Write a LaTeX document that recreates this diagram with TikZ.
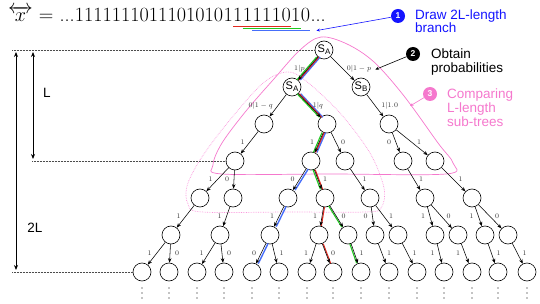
\RequirePackage{fix-cm}
\documentclass[tikz,border=0pt]{standalone}
\usepackage{amsmath}
\usepackage{fontspec}
\setsansfont{Liberation Sans}
\usetikzlibrary{arrows.meta,calc}

\definecolor{pinkc}{RGB}{245,120,205}
\definecolor{pinkl}{RGB}{250,150,220}
\definecolor{annblue}{RGB}{20,20,255}
\definecolor{pgreen}{RGB}{30,200,30}
\definecolor{pred}{RGB}{225,40,30}
\definecolor{pblue}{RGB}{70,110,250}

\newcommand\stlab[1]{{\sffamily\fontsize{11}{11}\selectfont S\raisebox{-0.3ex}{\fontsize{8}{8}\selectfont #1}}}
\newcommand\edL[3]{\draw[edge] (#1) -- (#2) node[lbl,midway,xshift=-7pt] (l#1#2) {$#3$};}
\newcommand\edR[3]{\draw[edge] (#1) -- (#2) node[lbl,midway,xshift=7pt] (l#1#2) {$#3$};}

\begin{document}
\begin{tikzpicture}[x=1pt,y=-1pt,
  st/.style={circle,draw,line width=0.6pt,minimum size=18pt,inner sep=0pt},
  edge/.style={line width=0.55pt,-{Stealth[length=4.5pt,width=3.5pt]}},
  lbl/.style={font=\fontsize{7}{7}\selectfont,text=black!80,inner sep=0pt},
  big/.style={anchor=base west,inner sep=0pt,font=\fontsize{20.2}{22}\selectfont},
  uline/.style={line width=1.3pt},
  gr/.style={pgreen,line width=1.1pt,transform canvas={xshift=-1.3pt}},
  rd/.style={pred,line width=1.1pt,transform canvas={xshift=0.9pt}},
  bl/.style={pblue,line width=1.4pt,transform canvas={xshift=2.2pt}},
  hdot/.style={densely dotted,line width=0.5pt,black!70},
  varr/.style={line width=0.9pt,{Stealth[length=5pt,width=4pt]}-{Stealth[length=5pt,width=4pt]}},
  ann/.style={circle,inner sep=0pt,minimum size=14pt,text=white,font=\sffamily\bfseries\fontsize{8.5}{8.5}\selectfont},
  annt/.style={inner sep=0pt,font=\sffamily\fontsize{13.5}{15}\selectfont},
  annarr/.style={line width=0.6pt,-{Stealth[length=3.5pt,width=3pt]}}
]
\useasboundingbox (0,0) rectangle (540,304);

% pink sub-tree outlines
\draw[pinkc,line width=0.7pt] plot[smooth cycle,tension=0.55] coordinates {
  (321,37) (347,44) (374,62) (404,96) (438,143) (453,163) (446,174) (330,174)
  (222,174) (213,165) (222,143) (246,111) (273,80) (300,50)};
\draw[pinkl,line width=0.7pt,densely dotted] plot[smooth cycle,tension=0.55] coordinates {
  (287,72) (306,81) (340,113) (370,153) (384,188) (381,208) (365,212) (290,212)
  (202,212) (188,204) (187,186) (200,160) (225,126) (262,84)};

% top sequence
\node[big] (pre) at (8,22) {$\overleftrightarrow{x}$ = ...1111111011101010};
\node[big] (s1) at (pre.base east) {1};
\node[big] (s2) at (s1.base east) {1};
\node[big] (s3) at (s2.base east) {1};
\node[big] (s4) at (s3.base east) {1};
\node[big] (s5) at (s4.base east) {1};
\node[big] (s6) at (s5.base east) {1};
\node[big] (s7) at (s6.base east) {0};
\node[big] (s8) at (s7.base east) {1};
\node[big] (s9) at (s8.base east) {0};
\node[big] (post) at (s9.base east) {...};
\draw[pred,uline] ($(s2.base west)+(0,4.5)$) -- ($(s7.base east)+(0,4.5)$);
\draw[pgreen,uline] ($(s3.base west)+(0,6.3)$) -- ($(s8.base east)+(0,6.3)$);
\draw[pblue,uline] ($(s4.base west)+(0,8.6)$) -- ($(s9.base east)+(0,8.6)$);

% tree nodes
\node[st] (r) at (324,50) {\stlab{A}};
\node[st] (a) at (292,87) {\stlab{A}};
\node[st] (b) at (361,87) {\stlab{B}};
\foreach \n/\x in {c1/264,c2/327,c3/389} \node[st] (\n) at (\x,124) {};
\foreach \n/\x in {d1/235,d2/311,d3/345,d4/403,d5/435} \node[st] (\n) at (\x,161) {};
\foreach \n/\x in {e1/200,e2/233,e3/288,e4/325,e5/370,e6/425,e7/472} \node[st] (\n) at (\x,198) {};
\foreach \n/\x in {f1/171,f2/220,f3/270,f4/319,f5/348,f6/375,f7/398,f8/435,f9/458,f10/485,f11/508} \node[st] (\n) at (\x,235) {};
\foreach \x [count=\i] in {142,169,197,224,252,279,307,333,361,389,417,444,472,498,527} {
  \node[st] (g\i) at (\x,272) {};
  \foreach \yy in {288,293,298} \fill (\x,\yy) circle (0.6pt);
}

% highlighted branches
\foreach \p/\q in {r/a,a/c2,c2/d2,d2/e3,e3/f3,f3/g5} \draw[bl] (\p) -- (\q);
\foreach \p/\q in {r/a,a/c2,c2/d2,d2/e4,e4/f4,f4/g8} \draw[rd] (\p) -- (\q);
\foreach \p/\q in {r/a,a/c2,c2/d2,d2/e4,e4/f5,f5/g9} \draw[gr] (\p) -- (\q);

% edges
\draw[edge] (r) -- (a) node[lbl,midway,anchor=east,xshift=-3pt] (lra) {$1|p$};
\draw[edge] (r) -- (b) node[lbl,midway,anchor=west,xshift=4pt] (lrb) {$0|1-p$};
\draw[edge] (a) -- (c1) node[lbl,midway,anchor=east,xshift=-5pt] (lac1) {$0|1-q$};
\draw[edge] (a) -- (c2) node[lbl,midway,anchor=west,xshift=3pt] (lac2) {$1|q$};
\draw[edge] (b) -- (c3) node[lbl,midway,anchor=west,xshift=6pt] (lbc3) {$1|1.0$};
\edL{c1}{d1}{1}
\edL{c2}{d2}{1} \edR{c2}{d3}{0}
\edL{c3}{d4}{0} \edR{c3}{d5}{1}
\edL{d1}{e1}{1} \edL{d1}{e2}{0}
\edL{d2}{e3}{0} \edR{d2}{e4}{1}
\edR{d3}{e5}{1}
\edR{d4}{e6}{1}
\edR{d5}{e7}{1}
\edL{e1}{f1}{1}
\edL{e2}{f2}{1}
\edL{e3}{f3}{1}
\edL{e4}{f4}{1} \edR{e4}{f5}{0}
\edL{e5}{f6}{0} \edR{e5}{f7}{1}
\edL{e6}{f8}{1} \edR{e6}{f9}{0}
\edL{e7}{f10}{1} \edR{e7}{f11}{0}
\edL{f1}{g1}{1} \edR{f1}{g2}{0}
\edL{f2}{g3}{1} \edR{f2}{g4}{0}
\edL{f3}{g5}{0} \edR{f3}{g6}{1}
\edL{f4}{g7}{1} \edR{f4}{g8}{0}
\edR{f5}{g9}{1}
\edR{f6}{g10}{1}
\edR{f7}{g11}{1}
\edL{f8}{g12}{1}
\edL{f9}{g13}{1}
\edR{f10}{g14}{1}
\edR{f11}{g15}{1}

% depth guides
\coordinate (h1) at (12,50);
\coordinate (h2) at (32,161);
\coordinate (h3) at (12,272);
\draw[hdot] (h1) -- (r.west);
\draw[hdot] (h2) -- (d1.west);
\draw[hdot] (h3) -- (g1.west);
\coordinate (a2t) at (16,52);
\coordinate (a2b) at (16,270);
\coordinate (a1t) at (33,52);
\coordinate (a1b) at (33,159);
\draw[varr] (a2t) -- (a2b);
\draw[varr] (a1t) -- (a1b);
\node[annt] (labL) at (47,93) {L};
\node[annt] (lab2L) at (35,228) {2L};

% annotations
\node[ann,fill=annblue] (n1) at (398,16) {1};
\node[annt,text=annblue,anchor=base west] (t1a) at (415,19.5) {Draw 2L-length};
\node[annt,text=annblue,anchor=base west] (t1b) at (415,33) {branch};
\node[ann,fill=black] (n2) at (413,54) {2};
\node[annt,anchor=base west] (t2a) at (431,59) {Obtain};
\node[annt,anchor=base west] (t2b) at (431,73) {probabilities};
\node[ann,fill=pinkc] (n3) at (430,94) {3};
\node[annt,text=pinkc,anchor=base west] (t3a) at (447,98.5) {Comparing};
\node[annt,text=pinkc,anchor=base west] (t3b) at (447,112.5) {L-length};
\node[annt,text=pinkc,anchor=base west] (t3c) at (447,126.5) {sub-trees};

\coordinate (bt) at ($(s9.base east)+(6,8.6)$);
\draw[annarr,annblue] (n1) -- (bt);
\coordinate (pt) at ($(lrb.east)+(4,1)$);
\draw[annarr] (n2) -- (pt);
\coordinate (qt) at (410,106);
\draw[annarr,pinkc] (n3) -- (qt);
\end{tikzpicture}
\end{document}
